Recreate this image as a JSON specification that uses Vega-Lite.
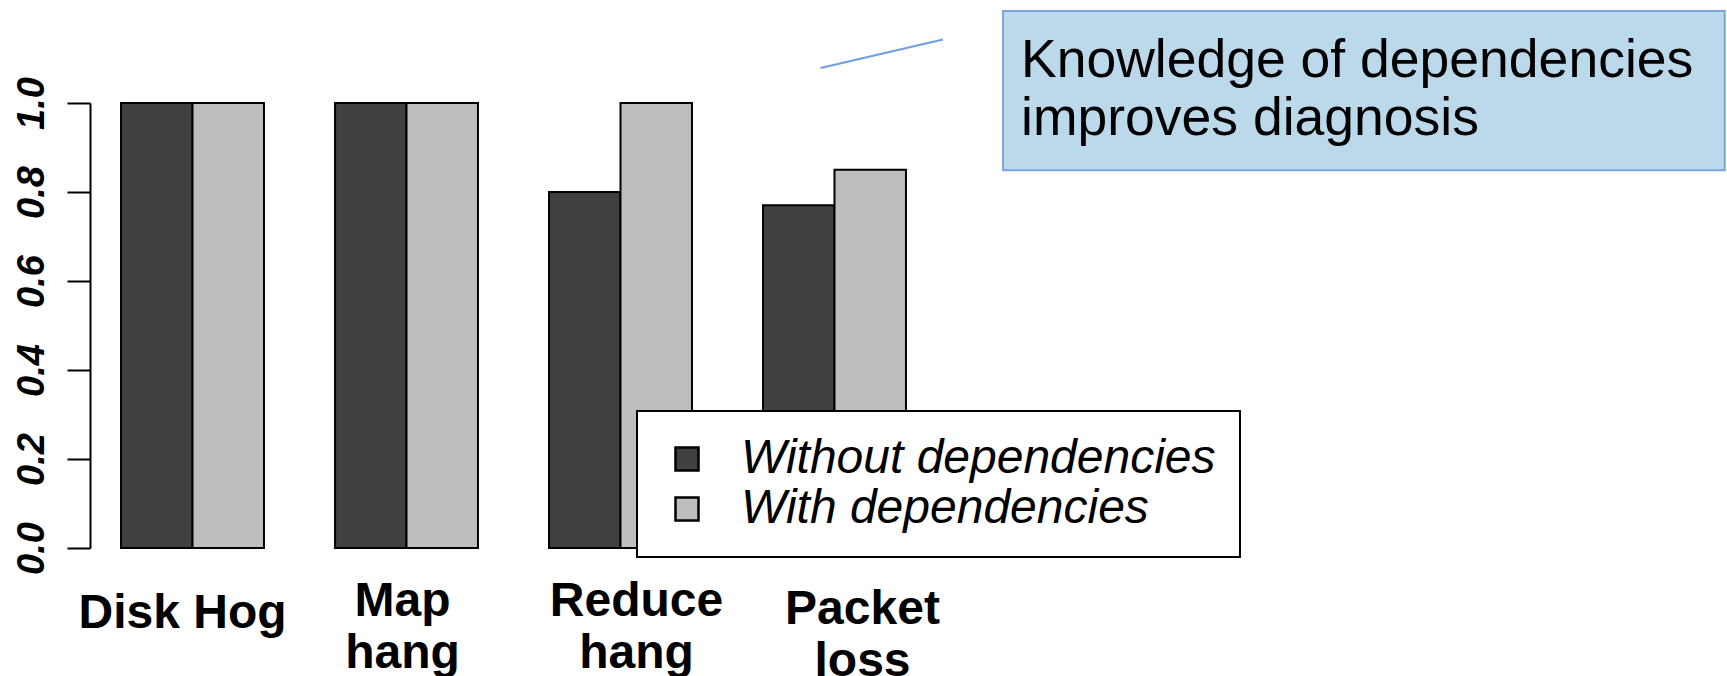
{
  "$schema": "https://vega.github.io/schema/vega-lite/v6.json",
  "autosize": {"type": "none"},
  "padding": {"left": 90, "top": 103, "right": 790, "bottom": 128},
  "width": 847,
  "height": 445,
  "background": "white",
  "config": {
    "view": {"stroke": null},
    "font": "Liberation Sans",
    "legend": {
      "strokeWidth": 2
    }
  },
  "layer": [
    {
      "data": {
        "values": [
          {"fault": "Disk Hog", "setting": "Without dependencies", "score": 1.0},
          {"fault": "Disk Hog", "setting": "With dependencies", "score": 1.0},
          {"fault": "Map hang", "setting": "Without dependencies", "score": 1.0},
          {"fault": "Map hang", "setting": "With dependencies", "score": 1.0},
          {"fault": "Reduce hang", "setting": "Without dependencies", "score": 0.8},
          {"fault": "Reduce hang", "setting": "With dependencies", "score": 1.0},
          {"fault": "Packet loss", "setting": "Without dependencies", "score": 0.77},
          {"fault": "Packet loss", "setting": "With dependencies", "score": 0.85}
        ]
      },
      "mark": {"type": "bar", "stroke": "black", "strokeWidth": 2},
      "encoding": {
        "x": {
          "field": "fault",
          "type": "nominal",
          "sort": null,
          "scale": {"paddingInner": 0.332, "paddingOuter": 0.145},
          "axis": {
            "title": null,
            "domain": false,
            "ticks": false,
            "tickSize": 0,
            "labelAngle": 0,
            "labelAlign": "center",
            "labelBaseline": "alphabetic",
            "labelFont": "Liberation Sans",
            "labelFontSize": 48,
            "labelFontWeight": "bold",
            "labelColor": "black",
            "labelLimit": 0,
            "labelLineHeight": 52,
            "labelExpr": "datum.value == 'Disk Hog' ? datum.value : split(datum.value, ' ')",
            "labelOffset": {
              "condition": [
                {"test": "datum.value == 'Disk Hog'", "value": -10},
                {"test": "datum.value == 'Map hang'", "value": -4},
                {"test": "datum.value == 'Reduce hang'", "value": 16}
              ],
              "value": 28
            },
            "labelPadding": {
              "condition": [
                {"test": "datum.value == 'Disk Hog'", "value": 79},
                {"test": "datum.value == 'Packet loss'", "value": 75}
              ],
              "value": 67
            }
          }
        },
        "xOffset": {
          "field": "setting",
          "type": "nominal",
          "sort": ["Without dependencies", "With dependencies"],
          "scale": {"paddingInner": 0, "paddingOuter": 0}
        },
        "y": {
          "field": "score",
          "type": "quantitative",
          "scale": {"domain": [0, 1], "nice": false, "zero": true},
          "axis": {
            "title": null,
            "grid": false,
            "values": [0, 0.2, 0.4, 0.6, 0.8, 1],
            "format": ".1f",
            "domainColor": "black",
            "domainWidth": 2,
            "tickColor": "black",
            "tickWidth": 2,
            "tickSize": 23,
            "labelAngle": 270,
            "labelAlign": "center",
            "labelBaseline": "alphabetic",
            "labelPadding": 24,
            "labelFont": "Liberation Sans",
            "labelFontSize": 38,
            "labelFontWeight": "bold",
            "labelFontStyle": "italic",
            "labelColor": "black",
            "labelOverlap": false,
            "labelFlush": false
          }
        },
        "color": {
          "field": "setting",
          "type": "nominal",
          "scale": {
            "domain": ["Without dependencies", "With dependencies"],
            "range": ["#404040", "#bebebe"]
          },
          "legend": {
            "title": null,
            "orient": "none",
            "legendX": 547,
            "legendY": 308,
            "fillColor": "white",
            "strokeColor": "black",
            "padding": 24,
            "symbolType": "square",
            "symbolSize": 529,
            "symbolStrokeColor": "black",
            "symbolStrokeWidth": 2.5,
            "symbolOffset": 2,
            "labelFont": "Liberation Sans",
            "labelFontSize": 48,
            "labelFontStyle": "italic",
            "labelColor": "black",
            "labelLimit": 0,
            "labelOffset": 30,
            "rowPadding": 2
          }
        }
      }
    },
    {
      "data": {"values": [{"note": "callout"}]},
      "layer": [
        {
          "mark": {"type": "rule", "color": "#6f9fe0", "strokeWidth": 2},
          "encoding": {
            "x": {"datum": 0.8625, "type": "quantitative", "scale": {"domain": [0, 1], "nice": false, "zero": false}, "axis": null},
            "x2": {"datum": 1.007},
            "y": {"datum": 1.0787, "type": "quantitative", "scale": {"domain": [0, 1], "nice": false}},
            "y2": {"datum": 1.1425}
          }
        },
        {
          "mark": {"type": "rect", "fill": "#bbd9eb", "stroke": "#7ba4dd", "strokeWidth": 2},
          "encoding": {
            "x": {"datum": 1.078, "type": "quantitative", "scale": {"domain": [0, 1], "nice": false, "zero": false}, "axis": null},
            "x2": {"datum": 1.93},
            "y": {"datum": 1.2067, "type": "quantitative", "scale": {"domain": [0, 1], "nice": false}},
            "y2": {"datum": 0.849}
          }
        },
        {
          "mark": {
            "type": "text",
            "text": ["Knowledge of dependencies", "improves diagnosis"],
            "font": "Liberation Sans",
            "fontSize": 53.5,
            "align": "left",
            "baseline": "alphabetic",
            "lineHeight": 58,
            "color": "black"
          },
          "encoding": {
            "x": {"datum": 1.0992, "type": "quantitative", "scale": {"domain": [0, 1], "nice": false, "zero": false}, "axis": null},
            "y": {"datum": 1.0584, "type": "quantitative", "scale": {"domain": [0, 1], "nice": false}}
          }
        }
      ]
    }
  ],
  "resolve": {"scale": {"x": "independent"}, "axis": {"x": "independent"}}
}
